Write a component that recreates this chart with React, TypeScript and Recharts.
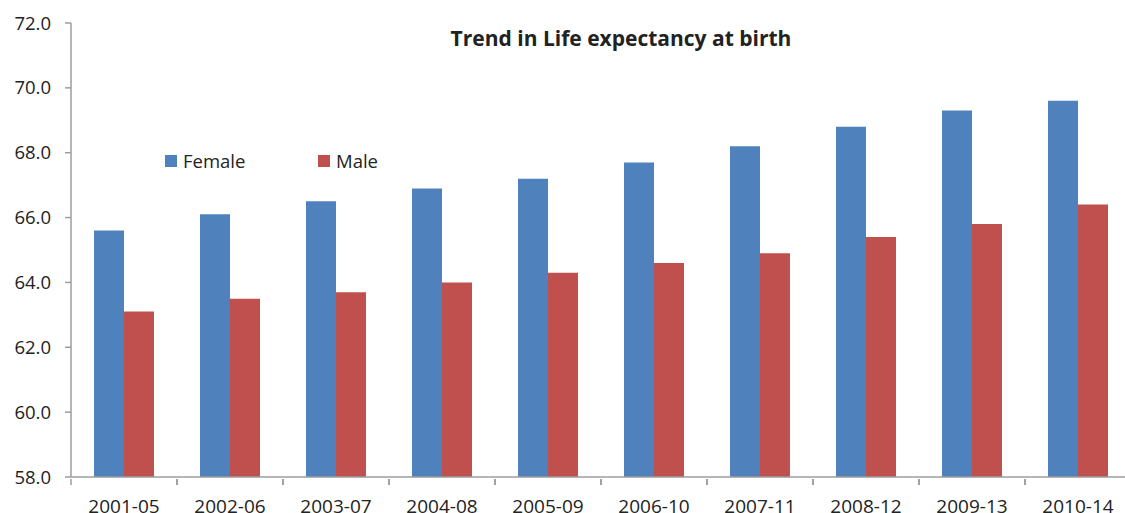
import { BarChart, Bar, XAxis, YAxis, Legend } from "recharts";

const periods = ["2001-05", "2002-06", "2003-07", "2004-08", "2005-09", "2006-10", "2007-11", "2008-12", "2009-13", "2010-14"];
const female = [65.6, 66.1, 66.5, 66.9, 67.2, 67.7, 68.2, 68.8, 69.3, 69.6];
const male = [63.1, 63.5, 63.7, 64.0, 64.3, 64.6, 64.9, 65.4, 65.8, 66.4];
const yTicks = [58, 60, 62, 64, 66, 68, 70, 72];

const data = periods.map((p, i) => ({ period: p, Female: female[i], Male: male[i] }));

const W = 1140;
const H = 513;
const M = { top: 23, right: 9, left: 0, bottom: 0 };
const Y_W = 71;
const FONT = "'Open Sans', sans-serif";
const AXIS = "#9d9d9d";
const band = (W - M.left - M.right - Y_W) / periods.length;

function XTick(props: any) {
  const { x, y, payload } = props;
  return (
    <g>
      <line x1={x - band / 2} x2={x - band / 2} y1={y - 6} y2={y} stroke={AXIS} strokeWidth={1.5} />
      <line x1={x + band / 2} x2={x + band / 2} y1={y - 6} y2={y} stroke={AXIS} strokeWidth={1.5} />
      <text x={x} y={y + 28} textAnchor="middle" fill="#222" fontSize={19} fontFamily={FONT}>
        {payload.value}
      </text>
    </g>
  );
}

function LegendBox({ payload }: any) {
  return (
    <div style={{ display: "flex" }}>
      {(payload || []).map((e: any) => (
        <div key={e.value} style={{ width: 153, display: "flex", alignItems: "center", fontFamily: FONT, fontSize: 18.5, color: "#222" }}>
          <span style={{ width: 12, height: 12, background: e.color, marginRight: 6, display: "inline-block" }} />
          {e.value}
        </div>
      ))}
    </div>
  );
}

export default function App() {
  return (
    <div style={{ position: "absolute", left: 0, top: 0, width: 1125, height: H, overflow: "hidden", background: "#fff" }}>
      <div style={{ position: "absolute", left: 0, top: 24, width: 1242, textAlign: "center", fontFamily: FONT, fontWeight: 700, fontSize: 21, color: "#222" }}>
        Trend in Life expectancy at birth
      </div>
      <BarChart width={W} height={H} data={data} margin={M} barCategoryGap="21.7%" barGap={0}>
        <YAxis
          width={Y_W}
          domain={[58, 72]}
          ticks={yTicks}
          interval={0}
          tickFormatter={(v: number) => v.toFixed(1)}
          axisLine={{ stroke: AXIS, strokeWidth: 1.5 }}
          tickLine={{ stroke: AXIS, strokeWidth: 1.5 }}
          tickSize={6}
          tickMargin={14}
          tick={{ fill: "#222", fontSize: 18.5, fontFamily: FONT }}
        />
        <XAxis
          dataKey="period"
          height={36}
          interval={0}
          axisLine={{ stroke: AXIS, strokeWidth: 1.5 }}
          tickLine={false}
          tick={<XTick />}
        />
        <Legend
          content={<LegendBox />}
          layout="horizontal"
          verticalAlign="middle"
          align="center"
          wrapperStyle={{ top: 148, left: 165, width: 320 }}
        />
        <Bar dataKey="Female" fill="#4f81bd" isAnimationActive={false} />
        <Bar dataKey="Male" fill="#c0504d" isAnimationActive={false} />
      </BarChart>
    </div>
  );
}
